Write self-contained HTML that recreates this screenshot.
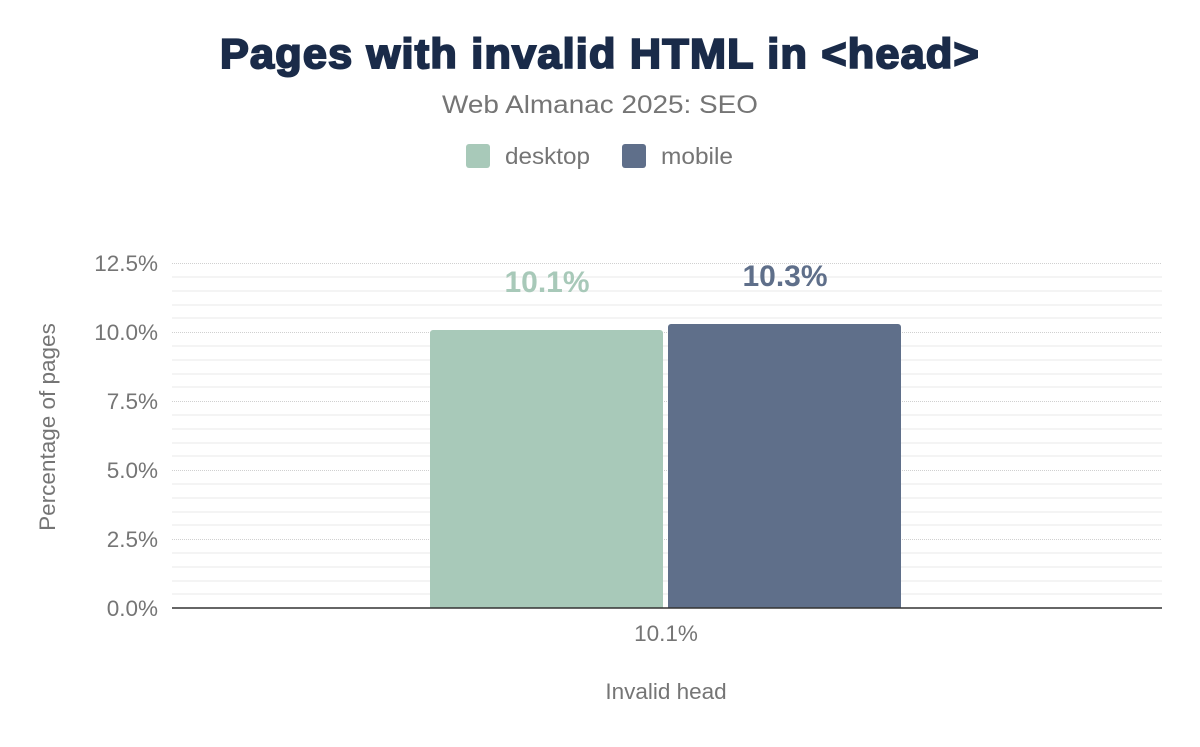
<!DOCTYPE html>
<html><head><style>
body{margin:0;width:1200px;height:742px;background:#fff;font-family:"Liberation Sans",Arial,sans-serif;overflow:hidden}
</style></head><body>
<svg width="1200" height="742" xmlns="http://www.w3.org/2000/svg" font-family="Liberation Sans, Arial, sans-serif">
<text x="600" y="68" text-anchor="middle" font-size="42" font-weight="900" fill="#1a2b49" stroke="#1a2b49" stroke-width="2" letter-spacing="1.2" textLength="760" lengthAdjust="spacingAndGlyphs">Pages with invalid HTML in &lt;head&gt;</text>
<text x="600" y="113" text-anchor="middle" font-size="25" fill="#757575" textLength="316" lengthAdjust="spacingAndGlyphs">Web Almanac 2025: SEO</text>
<rect x="466" y="144" width="24" height="24" rx="3" fill="#a8c9b9"/>
<text x="505" y="164" font-size="23" fill="#757575" textLength="85" lengthAdjust="spacingAndGlyphs">desktop</text>
<rect x="622" y="144" width="24" height="24" rx="3" fill="#5f6f8a"/>
<text x="661" y="164" font-size="23" fill="#757575" textLength="72" lengthAdjust="spacingAndGlyphs">mobile</text>
<g stroke="#f0f0f0" stroke-width="1.5">
<line x1="172" x2="1162" y1="277" y2="277"/><line x1="172" x2="1162" y1="291" y2="291"/><line x1="172" x2="1162" y1="305" y2="305"/><line x1="172" x2="1162" y1="318" y2="318"/>
<line x1="172" x2="1162" y1="346" y2="346"/><line x1="172" x2="1162" y1="360" y2="360"/><line x1="172" x2="1162" y1="374" y2="374"/><line x1="172" x2="1162" y1="387" y2="387"/>
<line x1="172" x2="1162" y1="415" y2="415"/><line x1="172" x2="1162" y1="429" y2="429"/><line x1="172" x2="1162" y1="443" y2="443"/><line x1="172" x2="1162" y1="456" y2="456"/>
<line x1="172" x2="1162" y1="484" y2="484"/><line x1="172" x2="1162" y1="498" y2="498"/><line x1="172" x2="1162" y1="512" y2="512"/><line x1="172" x2="1162" y1="525" y2="525"/>
<line x1="172" x2="1162" y1="553" y2="553"/><line x1="172" x2="1162" y1="567" y2="567"/><line x1="172" x2="1162" y1="581" y2="581"/><line x1="172" x2="1162" y1="594" y2="594"/>
</g>
<g stroke="#d0d0d0" stroke-width="1" stroke-dasharray="1,1">
<line x1="172" x2="1162" y1="263.5" y2="263.5"/><line x1="172" x2="1162" y1="332.5" y2="332.5"/><line x1="172" x2="1162" y1="401.5" y2="401.5"/><line x1="172" x2="1162" y1="470.5" y2="470.5"/><line x1="172" x2="1162" y1="539.5" y2="539.5"/>
</g>
<g font-size="22.5" fill="#757575" text-anchor="end">
<text x="158" y="271">12.5%</text><text x="158" y="340">10.0%</text><text x="158" y="409">7.5%</text><text x="158" y="478">5.0%</text><text x="158" y="547">2.5%</text><text x="158" y="616">0.0%</text>
</g>
<path d="M430 608V333a3 3 0 0 1 3-3h227a3 3 0 0 1 3 3V608z" fill="#a8c9b9"/>
<path d="M668 608V327a3 3 0 0 1 3-3h227a3 3 0 0 1 3 3V608z" fill="#5f6f8a"/>
<line x1="172" x2="1162" y1="608" y2="608" stroke="#333" stroke-width="1.5"/>
<text x="547" y="292" text-anchor="middle" font-size="30" font-weight="bold" fill="#a8c9b9">10.1%</text>
<text x="785" y="286" text-anchor="middle" font-size="30" font-weight="bold" fill="#5f6f8a">10.3%</text>
<text x="666" y="641" text-anchor="middle" font-size="22.5" fill="#757575">10.1%</text>
<text x="666" y="699" text-anchor="middle" font-size="22.5" fill="#757575">Invalid head</text>
<text transform="translate(55,427) rotate(-90)" text-anchor="middle" font-size="22.5" fill="#757575">Percentage of pages</text>
</svg>
</body></html>
